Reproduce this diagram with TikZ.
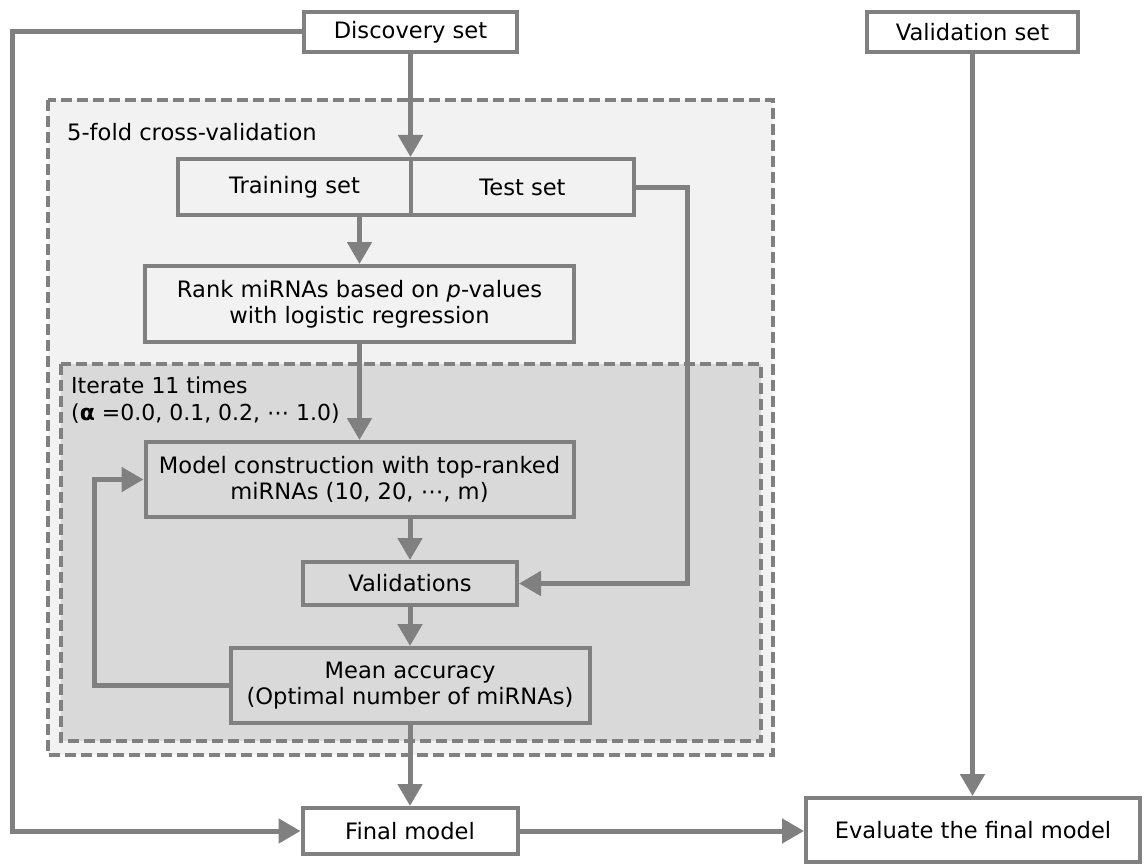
\documentclass[tikz,border=0pt]{standalone}
\usepackage{fontspec}
\setmainfont{DejaVu Sans}
\usetikzlibrary{arrows.meta}
\definecolor{edgegray}{RGB}{128,128,128}
\definecolor{outerfill}{RGB}{242,242,242}
\definecolor{innerfill}{RGB}{217,217,217}
\begin{document}
\begin{tikzpicture}[x=1pt,y=-1pt,
	font=\fontsize{22.6}{26}\selectfont,
	stepbox/.style={draw=edgegray,line width=4pt,inner sep=0pt,align=center,text=black},
	flow/.style={draw=edgegray,line width=5pt,-{Triangle[length=22pt,width=24pt]}},
	frame/.style={draw=edgegray,line width=4pt,dash pattern=on 11pt off 5pt}]
\useasboundingbox (0,0) rectangle (1146,864);
% dashed frames
\draw[frame,fill=outerfill] (48,100) rectangle (773,755);
\draw[frame,fill=innerfill] (61,364) rectangle (761,741);
\node[anchor=west,inner sep=0pt] (cvlabel) at (67,132) {5-fold cross-validation};
\node[anchor=north west,align=left,inner sep=0pt,font=\fontsize{22}{27}\selectfont] (itlabel) at (71,377) {Iterate 11 times\\(\textbf{α} =0.0, 0.1, 0.2, ⋯ 1.0)};
% boxes
\node[stepbox,fill=white,minimum width=213,minimum height=40] (disc) at (410.5,32) {Discovery set};
\node[stepbox,fill=white,minimum width=211,minimum height=40] (valset) at (972.5,32) {Validation set};
\node[stepbox,minimum width=233,minimum height=56] (train) at (294.5,187) {Training set};
\node[stepbox,minimum width=223,minimum height=56] (test) at (522.5,187) {Test set};
\node[stepbox,minimum width=429,minimum height=76] (rank) at (359.5,304) {Rank miRNAs based on \textit{p}-values\\with logistic regression};
\node[stepbox,minimum width=428,minimum height=75] (model) at (359.5,479.5) {Model construction with top-ranked\\miRNAs (10, 20, ⋯, m)};
\node[stepbox,minimum width=214,minimum height=43] (val) at (410,583.5) {Validations};
\node[stepbox,minimum width=359,minimum height=75] (mean) at (410,685.5) {Mean accuracy\\(Optimal number of miRNAs)};
\node[stepbox,fill=white,minimum width=215,minimum height=46] (final) at (410,831) {Final model};
\node[stepbox,fill=white,minimum width=334,minimum height=64] (eval) at (973,830) {Evaluate the final model};
% connectors
\draw[flow] (disc.west) -- ++(-290,0) |- (final.west);
\draw[flow] (disc.south) -- (disc.south |- train.north);
\draw[flow] (train.south -| rank.north) -- (rank.north);
\draw[flow] (rank.south) -- (model.north);
\draw[flow] (model.south -| val.north) -- (val.north);
\draw[flow] (val.south) -- (mean.north);
\draw[flow] (mean.south) -- (final.north);
\draw[flow] (test.east) -- ++(51,0) |- (val.east);
\draw[flow] (mean.west) -- ++(-134,0) |- (model.west);
\draw[flow] (final.east) -- (final.east -| eval.west);
\draw[flow] (valset.south) -- (valset.south |- eval.north);
\end{tikzpicture}
\end{document}
